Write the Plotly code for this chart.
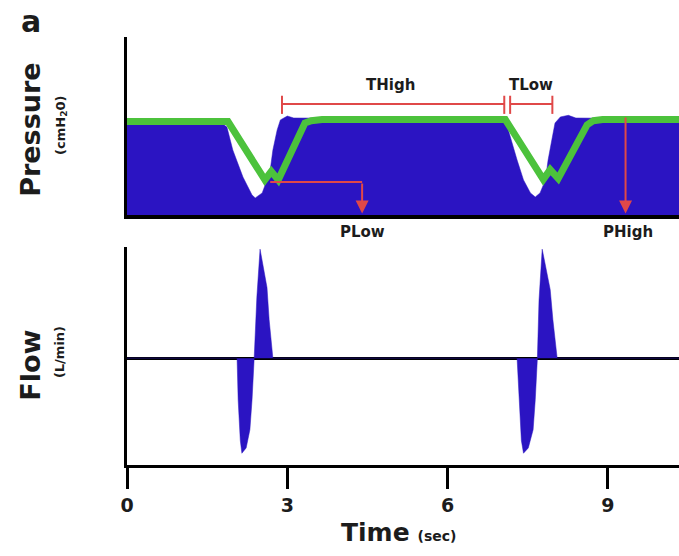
import plotly.graph_objects as go

# ---------------- data ----------------
# Pressure waveform (blue filled area), time in sec
press_t = [0, 1.80, 1.87, 1.98, 2.17, 2.34, 2.40, 2.53, 2.62, 2.68, 2.73, 2.81, 2.87, 3.00, 3.12,
           7.00, 7.08, 7.17, 7.30, 7.42, 7.55, 7.64, 7.73, 7.83, 7.88, 7.96, 8.01, 8.11, 8.26, 8.40, 10.33]
press_v = [51.0, 51.0, 49.4, 36.5, 21.3, 11.2, 9.6, 12.4, 19.7, 25.3, 36.5, 47.8, 53.4, 55.6, 54.5,
           54.0, 53.4, 43.8, 30.9, 19.7, 12.4, 10.1, 12.4, 19.7, 30.9, 43.8, 51.7, 55.1, 56.0, 54.5, 54.0]

# Green pressure trace
green_t = [0, 1.89, 2.58, 2.70, 2.83, 3.33, 3.45, 3.65, 7.08, 7.79, 7.92, 8.07, 8.61, 8.73, 8.90, 10.33]
green_v = [52.5, 52.5, 19.7, 24.5, 19.7, 51.7, 53.0, 53.6, 53.6, 20.0, 25.5, 20.5, 50.6, 53.0, 53.6, 53.6]

# Flow waveform
flow_t = [0, 2.06, 2.08, 2.12, 2.15, 2.23, 2.30, 2.34, 2.38, 2.43, 2.49, 2.62, 2.66, 2.73,
          7.30, 7.34, 7.38, 7.42, 7.51, 7.60, 7.64, 7.68, 7.71, 7.77, 7.92, 7.97, 8.05, 10.33]
flow_q = [0, 0, -39, -77, -89, -84, -67, -39, 0, 57, 102, 66, 36, 0,
          0, -39, -77, -89, -84, -67, -39, 0, 54, 102, 64, 36, 0, 0]

# Time ticks
tick_vals = [0, 3, 6, 9]
tick_text = ["0", "3", "6", "9"]

# Annotation markers
thigh_span = [2.90, 7.06]
tlow_span = [7.17, 7.96]
bar_level = 62.4
cap_range = [56.8, 67.0]
label_level = 73.0
plow_start = [2.68, 18.5]
plow_x = 4.40
phigh_x = 9.33
phigh_top = 55.6
arrow_tip = 0.8

# ---------------- figure ----------------
BLUE = "#2b14c2"
GREEN = "#4cc23c"
RED = "#e04848"
FONT = "DejaVu Sans"
TXT = "#1c1c1c"

fig = go.Figure()

fig.add_trace(go.Scatter(x=press_t, y=press_v, mode="lines", fill="tozeroy",
                         fillcolor=BLUE, line=dict(color=BLUE, width=0.5),
                         xaxis="x", yaxis="y", hoverinfo="skip"))
fig.add_trace(go.Scatter(x=green_t, y=green_v, mode="lines",
                         line=dict(color=GREEN, width=7),
                         xaxis="x", yaxis="y", hoverinfo="skip"))
fig.add_trace(go.Scatter(x=flow_t, y=flow_q, mode="lines", fill="tozeroy",
                         fillcolor=BLUE, line=dict(color=BLUE, width=0.5),
                         xaxis="x2", yaxis="y2", hoverinfo="skip"))

shapes = []
for span in (thigh_span, tlow_span):
    shapes.append(dict(type="line", xref="x", yref="y", x0=span[0], x1=span[1],
                       y0=bar_level, y1=bar_level, line=dict(color=RED, width=2)))
    for xe in span:
        shapes.append(dict(type="line", xref="x", yref="y", x0=xe, x1=xe,
                           y0=cap_range[0], y1=cap_range[1], line=dict(color=RED, width=2)))
shapes.append(dict(type="line", xref="x", yref="y", x0=plow_start[0], x1=plow_x,
                   y0=plow_start[1], y1=plow_start[1], line=dict(color=RED, width=2)))


def txt(x, y, text, size, xref="paper", yref="paper", angle=0):
    return dict(x=x, y=y, xref=xref, yref=yref, text=text, textangle=angle,
                showarrow=False, xanchor="center", yanchor="middle",
                font=dict(family=FONT, size=size, color=TXT))


annotations = [
    dict(x=plow_x, y=arrow_tip, ax=plow_x, ay=plow_start[1], xref="x", yref="y",
         axref="x", ayref="y", showarrow=True, arrowhead=2, arrowsize=1.3,
         arrowwidth=2, arrowcolor=RED, text=""),
    dict(x=phigh_x, y=arrow_tip, ax=phigh_x, ay=phigh_top, xref="x", yref="y",
         axref="x", ayref="y", showarrow=True, arrowhead=2, arrowsize=1.3,
         arrowwidth=2, arrowcolor=RED, text=""),
    txt(sum(thigh_span) / 2 - 0.05, label_level, "<b>THigh</b>", 15, "x", "y"),
    txt(sum(tlow_span) / 2, label_level, "<b>TLow</b>", 15, "x", "y"),
    txt(plow_x, 0.544, "<b>PLow</b>", 15, "x", "paper"),
    txt(phigh_x + 0.05, 0.544, "<b>PHigh</b>", 15, "x", "paper"),
    txt(-0.174, 1.037, "<b>a</b>", 30),
    txt(-0.174, 0.783, "<b>Pressure</b>", 27, angle=-90),
    txt(-0.12, 0.794, "<b>(cmH<sub>2</sub>0)</b>", 13, angle=-90),
    txt(-0.174, 0.234, "<b>Flow</b>", 27, angle=-90),
    txt(-0.123, 0.264, "<b>(L/min)</b>", 13, angle=-90),
    txt(0.492, -0.157, "<b>Time</b> <b><span style='font-size:14px'>(sec)</span></b>", 25),
]

xr = [0, 10.33]
fig.update_layout(
    width=679, height=556,
    margin=dict(l=127, r=0, t=37, b=91),
    paper_bgcolor="white", plot_bgcolor="white",
    showlegend=False,
    shapes=shapes, annotations=annotations,
    xaxis=dict(domain=[0, 1], range=xr, anchor="y", showline=True, linecolor="black",
               linewidth=4, ticks="", showticklabels=False, showgrid=False,
               zeroline=False, layer="above traces"),
    yaxis=dict(domain=[0.5841, 1], range=[0, 100], anchor="x", showline=True,
               linecolor="black", linewidth=3, ticks="", showticklabels=False,
               showgrid=False, zeroline=False, layer="above traces"),
    xaxis2=dict(domain=[0, 1], range=xr, anchor="y2", showline=True, linecolor="black",
                linewidth=3, ticks="outside", ticklen=21, tickwidth=3, tickcolor="black",
                tickvals=tick_vals, ticktext=tick_text, showgrid=False, zeroline=False,
                tickfont=dict(family=FONT, size=19, color=TXT, weight="bold"),
                layer="above traces"),
    yaxis2=dict(domain=[0, 0.5093], range=[-100, 104], anchor="x2", showline=True,
                linecolor="black", linewidth=3, ticks="", showticklabels=False,
                showgrid=False, zeroline=True, zerolinecolor="black", zerolinewidth=3,
                layer="above traces"),
)

fig.write_html("out.html", config={"displayModeBar": False},
               post_script="document.body.style.margin='0px';document.body.style.overflow='hidden';")
